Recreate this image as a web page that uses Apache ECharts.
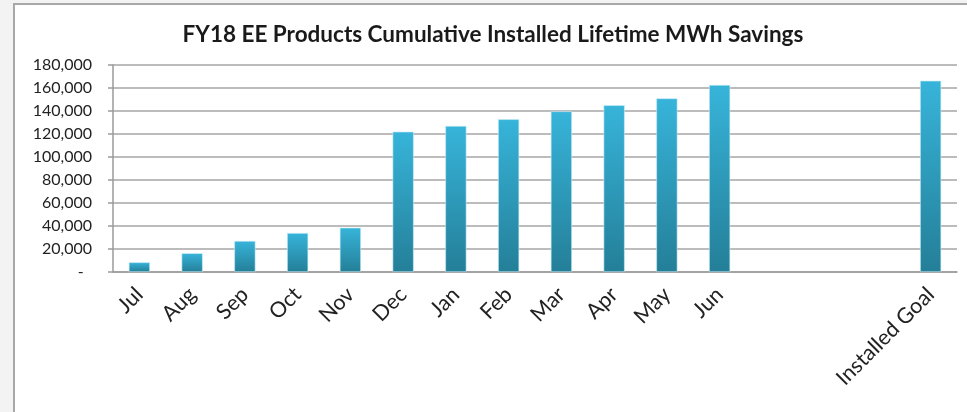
<!DOCTYPE html>
<html>
<head>
<meta charset="utf-8">
<script src="https://cdn.jsdelivr.net/npm/echarts@6/dist/echarts.min.js"></script>
<style>
  html, body { margin: 0; padding: 0; background: #f3f3f3; }
  #frame {
    position: absolute; left: 13px; top: 3px; width: 954px; height: 409px;
    background: #fff; border-left: 2px solid #a8a8a8; border-top: 2px solid #a8a8a8;
  }
  #main { width: 952px; height: 407px; }
</style>
</head>
<body>
<div id="frame"><div id="main"></div></div>
<script>
// months + 3 empty slots + the goal
var months = ['Jul', 'Aug', 'Sep', 'Oct', 'Nov', 'Dec', 'Jan', 'Feb', 'Mar', 'Apr', 'May', 'Jun', ' ', '  ', '   ', 'Installed Goal'];
var savings = [8400, 16300, 27000, 33900, 38500, 122000, 127000, 132800, 139700, 145000, 151000, 162600, null, null, null, 166300];
var yTicks = [0, 20000, 40000, 60000, 80000, 100000, 120000, 140000, 160000, 180000];

var myChart = echarts.init(document.getElementById('main'));
var option = {
    animation: false,
    backgroundColor: '#fff',
    title: {
        text: 'FY18 EE Products Cumulative Installed Lifetime MWh Savings',
        left: 473, top: 13, textAlign: 'center',
        textStyle: { fontFamily: 'Lato', fontWeight: 'bold', fontSize: 22.5, color: '#1a1a1a' }
    },
    grid: { left: 98, right: 10, top: 60, bottom: 140 },
    xAxis: {
        type: 'category',
        data: months,
        axisLine: { lineStyle: { color: '#9a9a9a', width: 1.5 } },
        axisTick: { length: 6, lineStyle: { color: '#9a9a9a', width: 1.5 } },
        axisLabel: { rotate: 45, interval: 0, fontFamily: 'Lato', fontSize: 21.5, color: '#222', margin: 19 }
    },
    yAxis: {
        type: 'value',
        min: yTicks[0],
        max: yTicks[yTicks.length - 1],
        interval: 20000,
        axisLine: { show: true, lineStyle: { color: '#9a9a9a', width: 1.5 } },
        axisTick: { show: true, length: 5, lineStyle: { color: '#9a9a9a', width: 1.5 } },
        splitLine: { lineStyle: { color: '#a6a6a6', width: 1.5 } },
        axisLabel: {
            fontFamily: 'Lato', fontSize: 16, color: '#222', margin: 21,
            formatter: function (v) {
                return v === 0 ? '-  ' : v.toLocaleString('en-US');
            }
        }
    },
    series: [{
        type: 'bar',
        data: savings,
        barWidth: '40%',
        itemStyle: {
            color: new echarts.graphic.LinearGradient(0, 0, 0, 1, [
                { offset: 0, color: '#37b4da' },
                { offset: 1, color: '#247f98' }
            ]),
            borderColor: '#c9ecf6',
            borderWidth: 0.6
        }
    }]
};
myChart.setOption(option);
</script>
</body>
</html>
